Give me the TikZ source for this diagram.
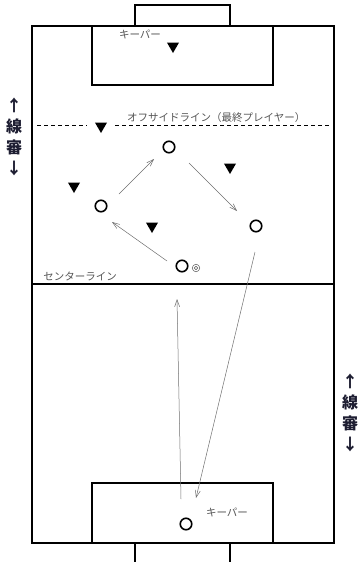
\documentclass[tikz,border=0pt]{standalone}
\usepackage{fontspec}
\newfontfamily\jp{Noto Sans CJK JP}
\usetikzlibrary{arrows.meta,shapes.geometric}
\definecolor{labelgray}{RGB}{85,85,85}
\definecolor{passgray}{RGB}{110,110,110}
\definecolor{lsblue}{RGB}{30,30,50}
\begin{document}
\begin{tikzpicture}[x=1pt,y=-1pt,
  field/.style={draw=black,line width=1.1pt},
  player/.style={circle,draw=black,line width=1.6pt,minimum size=11.5pt,inner sep=0pt},
  opp/.style={regular polygon,regular polygon sides=3,shape border rotate=180,fill=black,minimum size=14pt,inner sep=0pt},
  small/.style={font=\jp\fontsize{10.5}{11}\selectfont,text=labelgray,inner sep=0pt},
  pass/.style={draw=passgray,line width=0.5pt,-{Straight Barb[length=7pt,width=5pt]}},
  linesman/.style={font=\jp\bfseries\fontsize{16}{21}\selectfont,text=lsblue,align=center,inner sep=0pt}
]
\useasboundingbox (0,0) rectangle (359,562);
% field
\draw[field] (32,26) rectangle (334,543);
\draw[field] (135,5) rectangle (230,26);
\draw[field] (92,26) rectangle (273,85);
\draw[field] (92,483) rectangle (273,543);
\draw[field] (135,543) -- (135,562) (230,543) -- (230,562);
\draw[field] (32,284) -- (334,284);
% offside line
\draw[black,line width=0.8pt,dash pattern=on 4pt off 3pt] (37,125) -- (87,125);
\draw[black,line width=0.8pt,dash pattern=on 4pt off 3pt] (115,125) -- (330,125);
% labels
\node[small] (kT) at (140,34) {キーパー};
\node[small] (kB) at (227,512) {キーパー};
\node[small] (cl) at (80,276) {センターライン};
\node[small,anchor=west] (off) at (127,118) {オフサイドライン（最終プレイヤー）};
\node[linesman] (lsL) at (14,137) {↑\\線\\審\\↓};
\node[linesman] (lsR) at (350,413) {↑\\線\\審\\↓};
% players
\node[player] (pT) at (169,147) {};
\node[player] (pL) at (101,206) {};
\node[player] (pR) at (256,226) {};
\node[player] (pB) at (182,266) {};
\node[player] (gk) at (186,524) {};
\node[circle,draw=labelgray,line width=0.5pt,minimum size=7.5pt,inner sep=0pt] (dbl) at (196,268) {};
\node[circle,draw=labelgray,line width=0.5pt,minimum size=3.5pt,inner sep=0pt] (dbli) at (dbl) {};
% opponents
\node[opp] (oK) at (173,46) {};
\node[opp] (o1) at (101,126) {};
\node[opp] (o2) at (74,186) {};
\node[opp] (o3) at (230,167) {};
\node[opp] (o4) at (152,226) {};
% pass coordinates
\coordinate (a1s) at (167,261); \coordinate (a1e) at (112,222);
\coordinate (a2s) at (119,194); \coordinate (a2e) at (154,159);
\coordinate (a3s) at (189,163); \coordinate (a3e) at (237,211);
\coordinate (a4s) at (255,252); \coordinate (a4e) at (196,498);
\coordinate (a5s) at (181,499); \coordinate (a5e) at (177,299);
\draw[pass] (a1s) -- (a1e);
\draw[pass] (a2s) -- (a2e);
\draw[pass] (a3s) -- (a3e);
\draw[pass] (a4s) -- (a4e);
\draw[pass] (a5s) -- (a5e);
\end{tikzpicture}
\end{document}
